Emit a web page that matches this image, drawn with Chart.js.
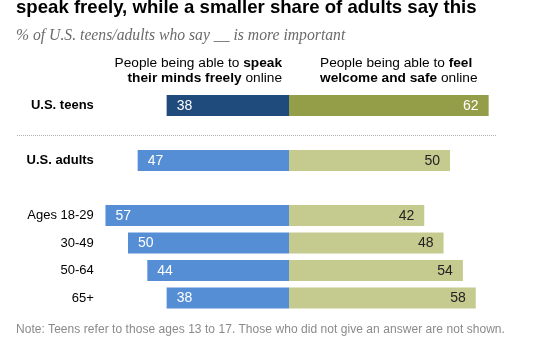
<!DOCTYPE html>
<html>
<head>
<meta charset="utf-8">
<script src="https://cdn.jsdelivr.net/npm/chart.js@4"></script>
<style>
  html, body { margin:0; padding:0; background:#fff; }
  body { width:546px; height:337px; position:relative; overflow:hidden; font-family:"Liberation Sans", Arial, sans-serif; }
  #wrap { position:absolute; left:0; top:0; width:546px; height:337px; }
  .txt { position:absolute; white-space:nowrap; z-index:2; }
  #title { left:16px; top:-2.6px; font-size:18.6px; line-height:19px; font-weight:bold; color:#000; }
  #subtitle { left:16px; top:27px; font-family:"Liberation Serif", Georgia, serif; font-style:italic; font-size:15.7px; line-height:15px; color:#6b6b6b; }
  #hleft { right:264px; top:55px; text-align:right; font-size:13.7px; line-height:15px; color:#000; }
  #hright { left:320px; top:55px; text-align:left; font-size:13.7px; line-height:15px; color:#000; }
  #note { left:16px; top:322.5px; font-size:12px; line-height:12px; color:#8a8a8a; letter-spacing:0.05px; }
</style>
</head>
<body>
<div id="wrap"><canvas id="c" width="546" height="337"></canvas></div>
<div class="txt" id="title">speak freely, while a smaller share of adults say this</div>
<div class="txt" id="subtitle">% of U.S. teens/adults who say __ is more important</div>
<div class="txt" id="hleft">People being able to <b>speak</b><br><b>their minds freely</b> online</div>
<div class="txt" id="hright">People being able to <b>feel</b><br><b>welcome and safe</b> online</div>
<div class="txt" id="note">Note: Teens refer to those ages 13 to 17. Those who did not give an answer are not shown.</div>
<script>
// ---- data ----
const categories = ["U.S. teens", "", "U.S. adults", "", "Ages 18-29", "30-49", "50-64", "65+"];
const speakFreely = [38, null, 47, null, 57, 50, 44, 38];
const feelSafe    = [62, null, 50, null, 42, 48, 54, 58];
const boldRows = ["U.S. teens", "U.S. adults"];

// ---- styles ----
const speakDark = "#1f4a7c", speakLight = "#558ed5";
const safeDark = "#949d48", safeLight = "#c5ca8f";

const valueLabels = {
  id: "valueLabels",
  afterDatasetsDraw(chart) {
    const ctx = chart.ctx;
    ctx.save();
    ctx.font = "14px 'Liberation Sans', Arial, sans-serif";
    ctx.textBaseline = "middle";
    chart.data.datasets.forEach((ds, di) => {
      const meta = chart.getDatasetMeta(di);
      meta.data.forEach((el, i) => {
        const raw = di === 0 ? speakFreely[i] : feelSafe[i];
        if (raw === null) return;
        if (di === 0) {
          ctx.textAlign = "left";
          ctx.fillStyle = "#ffffff";
          ctx.fillText(String(raw), el.x + 10, el.y + 0.5);
        } else {
          ctx.textAlign = "right";
          ctx.fillStyle = i === 0 ? "#ffffff" : "#222222";
          ctx.fillText(String(raw), el.x - 10, el.y + 0.5);
        }
      });
    });
    ctx.restore();
  }
};

const separator = {
  id: "separator",
  afterDraw(chart) {
    const ctx = chart.ctx;
    const y = Math.round(chart.scales.y.getPixelForValue(1) + 2) + 0.5;
    ctx.save();
    ctx.strokeStyle = "#b0b0b0";
    ctx.lineWidth = 1;
    ctx.setLineDash([1, 1]);
    ctx.beginPath();
    ctx.moveTo(17, y);
    ctx.lineTo(chart.width - 49, y);
    ctx.stroke();
    ctx.restore();
  }
};

new Chart(document.getElementById("c"), {
  type: "bar",
  data: {
    labels: categories,
    datasets: [
      {
        label: "Speak freely",
        data: speakFreely.map(v => v === null ? null : -v),
        backgroundColor: c => c.dataIndex === 0 ? speakDark : speakLight,
        borderWidth: 0,
        barPercentage: 0.764,
        categoryPercentage: 1
      },
      {
        label: "Feel welcome and safe",
        data: feelSafe,
        backgroundColor: c => c.dataIndex === 0 ? safeDark : safeLight,
        borderWidth: 0,
        barPercentage: 0.764,
        categoryPercentage: 1
      }
    ]
  },
  options: {
    indexAxis: "y",
    responsive: false,
    animation: false,
    layout: { padding: { top: 91.75, bottom: 25.25, left: 0, right: 31.6 } },
    plugins: { legend: { display: false }, tooltip: { enabled: false } },
    scales: {
      x: {
        stacked: true, min: -60, max: 70, display: false
      },
      y: {
        stacked: true,
        grid: { display: false, drawTicks: false },
        border: { display: false },
        afterFit: s => { s.width = 95.8; },
        ticks: {
          padding: 2,
          color: "#000",
          font: c => ({
            family: "'Liberation Sans', Arial, sans-serif",
            size: 13,
            weight: boldRows.includes(categories[c.index]) ? "bold" : "normal"
          })
        }
      }
    }
  },
  plugins: [valueLabels, separator]
});
</script>
</body>
</html>
